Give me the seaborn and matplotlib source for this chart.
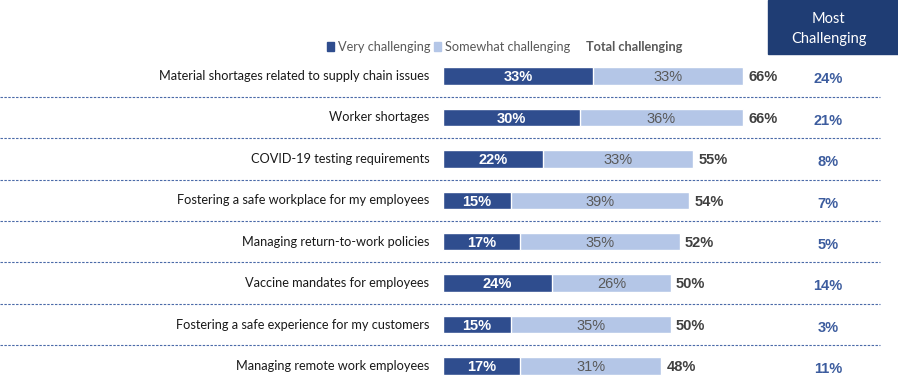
import numpy as np
import pandas as pd
import matplotlib
matplotlib.use("Agg")
import matplotlib.pyplot as plt
import seaborn as sns
from matplotlib.patches import Patch, Rectangle

categories = [
    "Material shortages related to supply chain issues",
    "Worker shortages",
    "COVID-19 testing requirements",
    "Fostering a safe workplace for my employees",
    "Managing return-to-work policies",
    "Vaccine mandates for employees",
    "Fostering a safe experience for my customers",
    "Managing remote work employees",
]
very = [33, 30, 22, 15, 17, 24, 15, 17]
somewhat = [33, 36, 33, 39, 35, 26, 35, 31]
total = [66, 66, 55, 54, 52, 50, 50, 48]
most = [24, 21, 8, 7, 5, 14, 3, 11]

dark = "#2f4d8e"
light = "#b4c6e7"
navy = "#1f3d74"

sns.set_theme(style="white")
plt.rcParams["font.family"] = ["Lato", "DejaVu Sans"]

df = pd.DataFrame({"cat": categories, "very": very, "total": total})

fig = plt.figure(figsize=(8.98, 3.84), dpi=100)
ax = fig.add_axes([443 / 898, 0, 455 / 898, 1])

sns.barplot(data=df, x="total", y="cat", color=light, width=0.42,
            saturation=1, ax=ax, orient="h")
sns.barplot(data=df, x="very", y="cat", color=dark, width=0.42,
            saturation=1, ax=ax, orient="h")

ax.set_xlim(0, 100)
ax.set_ylim(7 + 18 / 41.43, -76 / 41.43)
ax.axis("off")

num_font = ["Liberation Sans"]
for i, cat in enumerate(categories):
    ax.text(-3.0, i, cat, ha="right", va="center", fontsize=9.2,
            color="#1a1a1a", clip_on=False)
    ax.text(very[i] / 2, i + 0.03, f"{very[i]}%", ha="center", va="center",
            fontsize=10.5, color="white", fontweight="bold", family=num_font)
    ax.text(very[i] + somewhat[i] / 2, i + 0.03, f"{somewhat[i]}%",
            ha="center", va="center", fontsize=10.5, color="#595959",
            family=num_font)
    ax.text(total[i] + 1.2, i + 0.03, f"{total[i]}%", ha="left", va="center",
            fontsize=10.5, color="#404040", fontweight="bold",
            family=num_font)
    ax.text(84.6, i + 0.08, f"{most[i]}%", ha="center", va="center",
            fontsize=10.5, color="#3c5c9e", fontweight="bold",
            family=num_font)
    if i < len(categories) - 1:
        ax.plot([-97.4, 96], [i + 0.5, i + 0.5], ls=(0, (2.2, 1.3)),
                lw=0.8, color="#4a6aa8", clip_on=False)

# header box
ax.add_patch(Rectangle((71.4, -76 / 41.43), 28.6, 54 / 41.43,
                       color=navy, clip_on=False))
ax.text(84.8, -76 / 41.43 + 29 / 41.43, "Most\nChallenging", ha="center",
        va="center", color="white", fontsize=10.5, linespacing=1.6)

handles = [Patch(color=dark), Patch(color=light)]
leg = ax.legend(handles, ["Very challenging", "Somewhat challenging"],
                ncol=2, frameon=False, fontsize=9.2,
                handlelength=0.6, handleheight=0.6, handletextpad=0.3,
                columnspacing=0.25,
                loc="center left",
                bbox_to_anchor=(315 / 898, 1 - 47 / 384),
                bbox_transform=fig.transFigure)
for t in leg.get_texts():
    t.set_color("#595959")
fig.text(586 / 898, 1 - 47 / 384, "Total challenging", ha="left",
         va="center", fontsize=9.2, color="#595959", fontweight="bold")

fig.savefig("out.png", dpi=100)
